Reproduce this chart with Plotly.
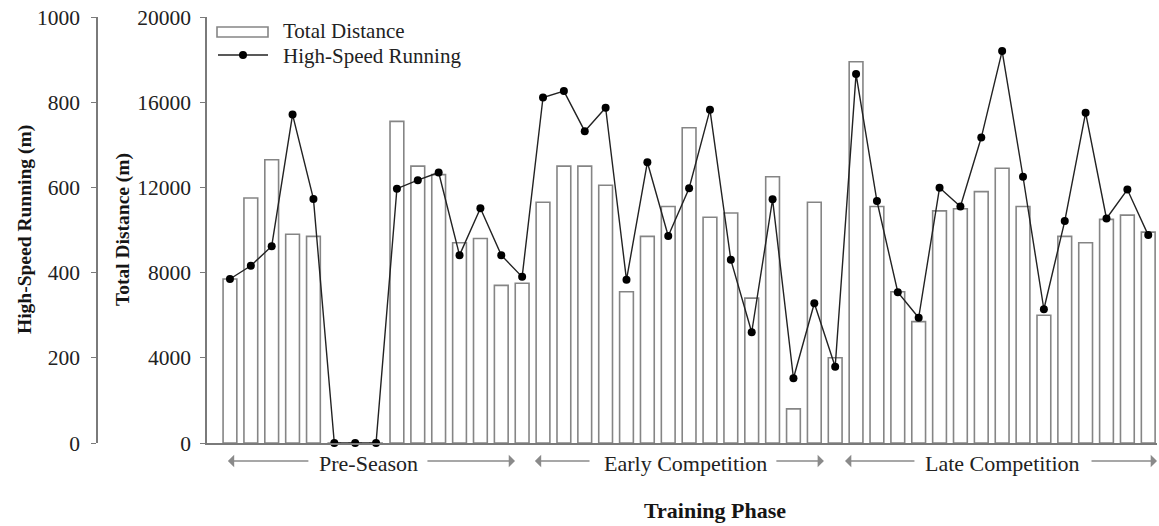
import plotly.graph_objects as go

# Training sessions (1..45), grouped in three phases of 15 sessions
sessions = list(range(1, 46))

# Total distance per session (m); sessions 6-8 were not recorded
total_distance = [
    7700, 11500, 13300, 9800, 9700, 0, 0, 0, 15100, 13000,
    12600, 9400, 9600, 7400, 7500, 11300, 13000, 13000, 12100, 7100,
    9700, 11100, 14800, 10600, 10800, 6800, 12500, 1600, 11300, 4000,
    17900, 11100, 7100, 5700, 10900, 11000, 11800, 12900, 11100, 6000,
    9700, 9400, 10500, 10700, 9900,
]

# High-speed running per session (m)
high_speed = [
    385, 416, 462, 771, 573, 0, 0, 0, 597, 617,
    635, 441, 551, 441, 390, 811, 826, 732, 787, 383,
    659, 486, 598, 782, 430, 260, 572, 152, 328, 179,
    866, 568, 354, 294, 599, 555, 717, 920, 625, 314,
    521, 775, 527, 595, 488,
]

td_ticks = [0, 4000, 8000, 12000, 16000, 20000]
hsr_ticks = [0, 200, 400, 600, 800, 1000]

# Phase labels with their arrow spans (session coordinates)
phases = ["Pre-Season", "Early Competition", "Late Competition"]
phase_left_tip = [0.90, 15.61, 30.47]
phase_left_tail = [4.83, 18.30, 33.87]
phase_right_tail = [10.39, 27.11, 42.21]
phase_right_tip = [14.66, 29.46, 45.42]
phase_center = [7.66, 22.85, 38.04]

SERIF = "Liberation Serif, Times New Roman, serif"
AXIS_GREY = "#7a7a7a"
BAR_EDGE = "#858585"
INK = "#151515"
TEXT = "#222222"

W, H = 1159, 526
PLOT_LEFT, PLOT_RIGHT = 207, 1157
PLOT_TOP, PLOT_BOTTOM = 17, 443
PAPER_W = W - 2


def px_x(px):
    return px / PAPER_W


def px_y(py):
    return (PLOT_BOTTOM - py) / (PLOT_BOTTOM - PLOT_TOP)


fig = go.Figure()

fig.add_trace(go.Bar(
    x=sessions, y=total_distance, name="Total Distance",
    marker=dict(color="white", line=dict(color=BAR_EDGE, width=1.6)),
    width=0.66, yaxis="y", showlegend=False,
))

fig.add_trace(go.Scatter(
    x=sessions, y=high_speed, name="High-Speed Running",
    mode="lines+markers", yaxis="y2",
    line=dict(color="#222222", width=1.4),
    marker=dict(color="black", size=8),
    showlegend=False, cliponaxis=False,
))

fig.update_layout(
    width=W, height=H,
    margin=dict(l=0, r=2, t=PLOT_TOP, b=H - PLOT_BOTTOM),
    paper_bgcolor="white", plot_bgcolor="white",
    font=dict(family=SERIF, color=INK, size=20),
    xaxis=dict(
        domain=[px_x(PLOT_LEFT), 1],
        range=[-0.10, 45.42],
        showgrid=False, zeroline=False, showticklabels=False, ticks="",
        showline=True, linecolor=AXIS_GREY, linewidth=1.6,
    ),
    yaxis=dict(
        range=[0, 20000], tickvals=td_ticks,
        ticktext=[str(v) for v in td_ticks],
        showgrid=False, zeroline=False,
        showline=True, linecolor=AXIS_GREY, linewidth=1.6,
        ticks="outside", ticklen=5, tickcolor=AXIS_GREY, tickwidth=1.4,
        ticklabelstandoff=5,
        tickfont=dict(family=SERIF, size=21.5, color=TEXT),
    ),
    yaxis2=dict(
        range=[0, 1000], tickvals=hsr_ticks,
        ticktext=[str(v) for v in hsr_ticks],
        overlaying="y", anchor="free", position=px_x(97), side="left",
        showgrid=False, zeroline=False,
        showline=True, linecolor=AXIS_GREY, linewidth=1.6,
        ticks="outside", ticklen=5, tickcolor=AXIS_GREY, tickwidth=1.4,
        ticklabelstandoff=7,
        tickfont=dict(family=SERIF, size=21.5, color=TEXT),
    ),
    bargap=0.34,
)

annotations = []

# Axis titles
annotations.append(dict(
    text="<b>High-Speed Running (m)</b>", textangle=-90,
    xref="paper", yref="paper", x=px_x(25), y=px_y(230),
    xanchor="center", yanchor="middle",
    showarrow=False, font=dict(family=SERIF, size=19.5, color=INK),
))
annotations.append(dict(
    text="<b>Total Distance (m)</b>", textangle=-90,
    xref="paper", yref="paper", x=px_x(123), y=px_y(230),
    xanchor="center", yanchor="middle",
    showarrow=False, font=dict(family=SERIF, size=19.5, color=INK),
))
annotations.append(dict(
    text="<b>Training Phase</b>",
    xref="paper", yref="paper", x=px_x(715), y=px_y(510),
    xanchor="center", yanchor="middle",
    showarrow=False, font=dict(family=SERIF, size=22, color=INK),
))

# Phase labels and their arrows
arrow_y = px_y(461)
for name, lt, ltail, rtail, rt, c in zip(phases, phase_left_tip, phase_left_tail,
                                         phase_right_tail, phase_right_tip, phase_center):
    annotations.append(dict(
        text=name, xref="x", yref="paper", x=c, y=px_y(463),
        xanchor="center", yanchor="middle",
        showarrow=False, font=dict(family=SERIF, size=22, color=TEXT),
    ))
    for tip, tail in ((lt, ltail), (rt, rtail)):
        annotations.append(dict(
            text="", xref="x", yref="paper", x=tip, y=arrow_y,
            axref="x", ax=tail, ayref="pixel", ay=0,
            showarrow=True, arrowhead=1, arrowsize=1.4, arrowwidth=1.5,
            arrowcolor="#8a8a8a", standoff=0, startstandoff=0,
        ))

# Legend entries
annotations.append(dict(
    text="Total Distance", xref="paper", yref="paper",
    x=px_x(281), y=px_y(31), xanchor="left", yanchor="middle",
    showarrow=False, font=dict(family=SERIF, size=21, color=TEXT),
))
annotations.append(dict(
    text="High-Speed Running", xref="paper", yref="paper",
    x=px_x(281), y=px_y(56), xanchor="left", yanchor="middle",
    showarrow=False, font=dict(family=SERIF, size=21, color=TEXT),
))

fig.update_layout(annotations=annotations)

shapes = [
    dict(type="rect", xref="paper", yref="paper",
         x0=px_x(217), x1=px_x(268), y0=px_y(37), y1=px_y(27),
         line=dict(color=BAR_EDGE, width=1.6), fillcolor="white"),
    dict(type="line", xref="paper", yref="paper",
         x0=px_x(218), x1=px_x(268), y0=px_y(55), y1=px_y(55),
         line=dict(color="#222222", width=1.4)),
    dict(type="circle", xref="paper", yref="paper",
         x0=px_x(239), x1=px_x(247), y0=px_y(59), y1=px_y(51),
         line=dict(color="black", width=0), fillcolor="black"),
]
fig.update_layout(shapes=shapes)

fig.write_html("out.html")
